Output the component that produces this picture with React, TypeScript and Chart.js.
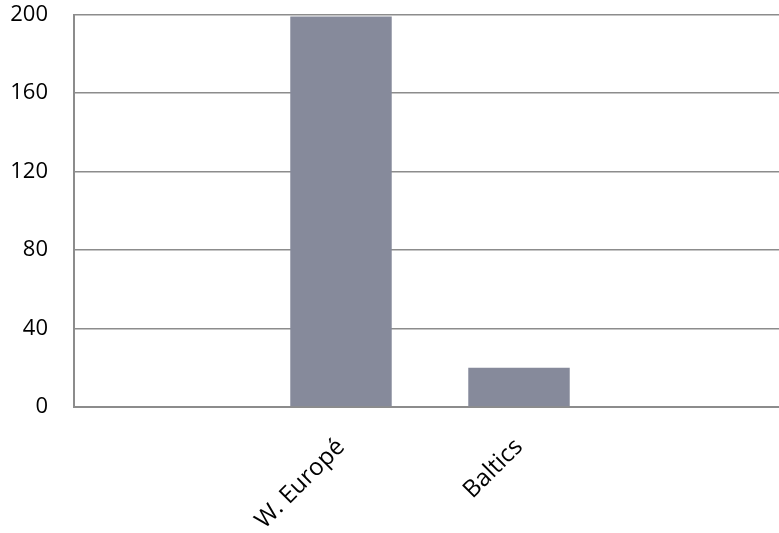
import { useEffect, useRef } from "react";
import { Chart, registerables } from "chart.js";

Chart.register(...registerables);

// Regions along the category axis (outer slots are left empty)
const categories = ["", "W. Europé", "Baltics", ""];
// Bar heights per region
const values: (number | null)[] = [null, 199, 20, null];
// Value axis range and step
const yMin = 0;
const yMax = 200;
const yStep = 40;

const FONT = "'Open Sans', 'DejaVu Sans', sans-serif";

export default function App() {
  const canvasRef = useRef<HTMLCanvasElement | null>(null);

  useEffect(() => {
    document.body.style.margin = "0";
    document.body.style.overflow = "hidden";
    const canvas = canvasRef.current;
    if (!canvas) return;
    const chart = new Chart(canvas, {
      type: "bar",
      data: {
        labels: categories,
        datasets: [
          {
            data: values,
            backgroundColor: "#868a9b",
            borderWidth: 0,
            categoryPercentage: 1,
            barPercentage: 0.57,
          },
        ],
      },
      options: {
        animation: false,
        responsive: false,
        devicePixelRatio: 1,
        layout: { padding: { top: 14.5, right: 0, bottom: 0, left: 0 } },
        plugins: {
          legend: { display: false },
          tooltip: { enabled: false },
        },
        scales: {
          x: {
            grid: { display: false, drawTicks: false },
            border: { display: true, color: "#8c8c8c", width: 2 },
            ticks: {
              color: "#000",
              font: { family: FONT, size: 24 },
              minRotation: 45,
              maxRotation: 45,
              autoSkip: false,
              padding: 26,
            },
            afterFit: (scale: any) => {
              scale.height = 126;
            },
          },
          y: {
            min: yMin,
            max: yMax,
            ticks: {
              stepSize: yStep,
              color: "#000",
              font: { family: FONT, size: 22 },
              padding: 0,
            },
            grid: {
              color: "#8c8c8c",
              lineWidth: 1.5,
              drawTicks: true,
              tickLength: 26,
              tickColor: "rgba(0,0,0,0)",
            },
            border: { display: true, color: "#8c8c8c", width: 2 },
            afterFit: (scale: any) => {
              scale.width = 74;
            },
          },
        },
      },
    });
    return () => chart.destroy();
  }, []);

  return (
    <div
      style={{
        position: "fixed",
        left: 0,
        top: 0,
        width: 779,
        height: 533,
        overflow: "hidden",
        background: "#fff",
      }}
    >
      <canvas ref={canvasRef} width={786} height={533} />
    </div>
  );
}
